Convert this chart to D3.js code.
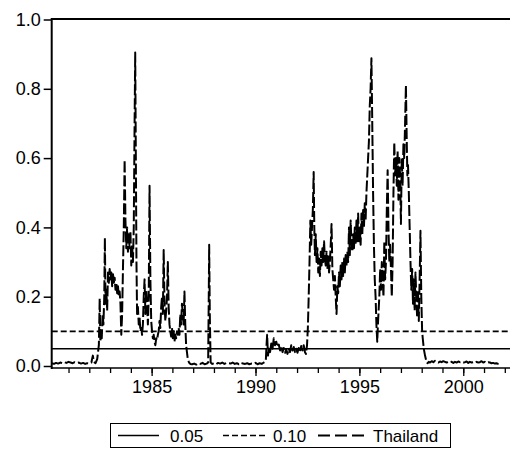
<!DOCTYPE html>
<html><head><meta charset="utf-8">
<script src="https://cdn.jsdelivr.net/npm/d3@7"></script>
<style>body{margin:0;background:#fff}svg{display:block}text{font-family:"Liberation Sans",Arial,sans-serif;}</style>
</head><body><svg id="c" width="510" height="457"></svg>
<script>
const yearTicks = [1985, 1990, 1995, 2000];
const minorYears = [1981,1982,1983,1984,1985,1986,1987,1988,1989,1990,1991,1992,1993,1994,1995,1996,1997,1998,1999,2000,2001,2002];
const yTicks = [0.0, 0.2, 0.4, 0.6, 0.8, 1.0];
const thresholds = [0.05, 0.10];
const legendLabels = ["0.05", "0.10", "Thailand"];
const years = [
1980.20,1980.30,1980.40,1980.50,1980.60,1980.70,1980.80,1980.90,1981.00,1981.10,1981.20,1981.30,1981.40,1981.50,1981.60,1981.70,1981.80,1981.90,1982.00,1982.10,1982.17,1982.22,1982.30,1982.38,1982.42,1982.46,1982.50,1982.53,1982.56,1982.60,1982.64,1982.68,1982.72,1982.75,1982.78,1982.82,1982.86,1982.90,1982.94,1982.98,1983.02,1983.06,1983.10,1983.14,1983.18,1983.22,1983.26,1983.30,1983.34,1983.38,1983.42,1983.46,1983.50,1983.54,1983.58,1983.62,1983.66,1983.70,1983.74,1983.78,1983.82,1983.86,1983.90,1983.94,1983.98,1984.02,1984.06,1984.10,1984.14,1984.18,1984.21,1984.24,1984.27,1984.30,1984.34,1984.38,1984.42,1984.46,1984.50,1984.54,1984.58,1984.62,1984.66,1984.70,1984.74,1984.78,1984.82,1984.86,1984.90,1984.94,1984.98,1985.02,1985.06,1985.10,1985.14,1985.18,1985.22,1985.26,1985.30,1985.34,1985.38,1985.42,1985.46,1985.50,1985.54,1985.58,1985.62,1985.66,1985.70,1985.74,1985.78,1985.82,1985.86,1985.90,1985.94,1985.98,1986.02,1986.06,1986.10,1986.14,1986.18,1986.22,1986.26,1986.30,1986.34,1986.38,1986.42,1986.46,1986.50,1986.54,1986.58,1986.62,1986.66,1986.70,1986.74,1986.80,1986.86,1986.95,1987.05,1987.15,1987.25,1987.35,1987.45,1987.55,1987.65,1987.72,1987.75,1987.77,1987.80,1987.84,1987.92,1988.00,1988.10,1988.20,1988.30,1988.40,1988.50,1988.60,1988.70,1988.80,1988.90,1989.00,1989.10,1989.20,1989.30,1989.40,1989.50,1989.60,1989.70,1989.80,1989.90,1990.00,1990.10,1990.20,1990.30,1990.40,1990.46,1990.50,1990.53,1990.56,1990.60,1990.64,1990.70,1990.76,1990.82,1990.88,1990.94,1991.00,1991.06,1991.12,1991.18,1991.24,1991.30,1991.36,1991.42,1991.48,1991.54,1991.60,1991.66,1991.72,1991.78,1991.84,1991.90,1991.96,1992.02,1992.08,1992.14,1992.20,1992.26,1992.32,1992.38,1992.43,1992.48,1992.52,1992.56,1992.60,1992.64,1992.68,1992.72,1992.76,1992.80,1992.83,1992.86,1992.90,1992.94,1992.98,1993.02,1993.06,1993.10,1993.14,1993.18,1993.22,1993.26,1993.30,1993.34,1993.38,1993.42,1993.46,1993.50,1993.54,1993.58,1993.62,1993.66,1993.70,1993.74,1993.78,1993.82,1993.86,1993.90,1993.94,1993.98,1994.02,1994.06,1994.10,1994.14,1994.18,1994.22,1994.26,1994.30,1994.34,1994.38,1994.42,1994.46,1994.50,1994.54,1994.58,1994.62,1994.66,1994.70,1994.74,1994.78,1994.82,1994.86,1994.90,1994.94,1994.98,1995.02,1995.06,1995.10,1995.14,1995.18,1995.22,1995.26,1995.30,1995.34,1995.38,1995.42,1995.46,1995.50,1995.54,1995.58,1995.62,1995.66,1995.70,1995.74,1995.78,1995.82,1995.86,1995.90,1995.96,1996.00,1996.04,1996.08,1996.12,1996.16,1996.20,1996.24,1996.28,1996.32,1996.36,1996.40,1996.44,1996.48,1996.52,1996.56,1996.60,1996.64,1996.68,1996.72,1996.76,1996.80,1996.84,1996.88,1996.92,1996.96,1997.00,1997.04,1997.08,1997.12,1997.16,1997.20,1997.24,1997.28,1997.31,1997.34,1997.38,1997.42,1997.46,1997.50,1997.54,1997.58,1997.62,1997.66,1997.70,1997.74,1997.78,1997.82,1997.86,1997.90,1997.94,1997.98,1998.02,1998.05,1998.10,1998.16,1998.22,1998.28,1998.34,1998.40,1998.48,1998.56,1998.64,1998.72,1998.80,1998.88,1998.96,1999.04,1999.12,1999.20,1999.28,1999.36,1999.44,1999.52,1999.60,1999.68,1999.76,1999.84,1999.92,2000.00,2000.08,2000.16,2000.24,2000.32,2000.40,2000.48,2000.56,2000.64,2000.72,2000.80,2000.88,2000.96,2001.04,2001.12,2001.20,2001.28,2001.36,2001.44,2001.52,2001.60,2001.68,2001.76,2001.84,2001.92,2002.00,2002.08,2002.16,2002.24];
const thailand = [
0.008,0.006,0.009,0.007,0.010,0.008,0.011,0.009,0.012,0.010,0.008,0.011,0.009,0.010,0.007,0.009,0.006,0.008,0.007,0.010,0.030,0.012,0.008,0.020,0.040,0.060,0.195,0.070,0.100,0.080,0.150,0.120,0.200,0.370,0.180,0.220,0.160,0.270,0.240,0.280,0.250,0.270,0.230,0.265,0.240,0.255,0.220,0.240,0.210,0.230,0.200,0.215,0.180,0.090,0.150,0.280,0.400,0.595,0.420,0.340,0.400,0.330,0.380,0.340,0.390,0.290,0.350,0.300,0.400,0.700,0.905,0.600,0.300,0.150,0.170,0.120,0.140,0.100,0.110,0.090,0.120,0.200,0.250,0.150,0.220,0.180,0.120,0.200,0.520,0.250,0.130,0.100,0.080,0.090,0.070,0.060,0.080,0.075,0.090,0.100,0.130,0.110,0.170,0.200,0.150,0.335,0.180,0.130,0.160,0.200,0.300,0.170,0.120,0.100,0.085,0.110,0.080,0.100,0.070,0.090,0.080,0.100,0.090,0.110,0.090,0.150,0.120,0.180,0.150,0.120,0.215,0.120,0.060,0.040,0.020,0.010,0.006,0.005,0.007,0.004,0.008,0.006,0.009,0.005,0.007,0.010,0.200,0.350,0.150,0.010,0.006,0.008,0.005,0.009,0.007,0.010,0.006,0.009,0.008,0.007,0.010,0.006,0.008,0.005,0.009,0.007,0.006,0.008,0.005,0.007,0.006,0.009,0.005,0.008,0.006,0.010,0.012,0.020,0.060,0.090,0.030,0.050,0.040,0.065,0.050,0.080,0.060,0.070,0.055,0.062,0.045,0.058,0.040,0.052,0.038,0.048,0.035,0.050,0.040,0.060,0.045,0.055,0.040,0.050,0.038,0.052,0.042,0.058,0.045,0.060,0.040,0.035,0.060,0.110,0.200,0.300,0.420,0.350,0.400,0.450,0.560,0.400,0.320,0.380,0.300,0.340,0.270,0.310,0.260,0.330,0.290,0.340,0.300,0.360,0.310,0.290,0.330,0.280,0.320,0.270,0.300,0.350,0.410,0.280,0.250,0.220,0.260,0.200,0.150,0.230,0.210,0.270,0.230,0.290,0.250,0.300,0.260,0.310,0.270,0.320,0.290,0.330,0.300,0.400,0.320,0.420,0.350,0.330,0.380,0.340,0.400,0.350,0.420,0.360,0.440,0.360,0.400,0.350,0.440,0.380,0.450,0.400,0.470,0.420,0.500,0.550,0.600,0.650,0.750,0.800,0.888,0.700,0.500,0.350,0.250,0.200,0.120,0.070,0.130,0.200,0.280,0.220,0.300,0.250,0.200,0.360,0.250,0.300,0.450,0.565,0.400,0.300,0.350,0.280,0.200,0.300,0.500,0.645,0.550,0.600,0.520,0.620,0.480,0.600,0.550,0.410,0.600,0.520,0.640,0.600,0.700,0.810,0.650,0.550,0.580,0.500,0.400,0.300,0.220,0.280,0.180,0.250,0.160,0.270,0.200,0.140,0.220,0.130,0.250,0.390,0.200,0.100,0.080,0.050,0.030,0.015,0.008,0.012,0.010,0.014,0.011,0.015,0.012,0.010,0.013,0.011,0.014,0.012,0.010,0.013,0.011,0.012,0.009,0.012,0.010,0.013,0.011,0.012,0.010,0.011,0.013,0.009,0.012,0.010,0.011,0.009,0.012,0.010,0.011,0.014,0.010,0.012,0.009,0.011,0.010,0.008,0.009,0.007,0.008,0.006,0.005,0.004];

const svg = d3.select("#c");
const X0 = 51.7, X1 = 510;
const x = d3.scaleLinear().domain([1980.19, 2002.25]).range([X0, X1]);
const y = d3.scaleLinear().domain([0, 1]).range([366, 19.5]);
const axisY = 368;
const FONT = "Liberation Sans, Arial, sans-serif";

// threshold lines
svg.append("line").attr("x1", X0).attr("x2", X1).attr("y1", y(thresholds[0])).attr("y2", y(thresholds[0]))
  .attr("stroke", "#000").attr("stroke-width", 1.6);
svg.append("line").attr("x1", X0).attr("x2", X1).attr("y1", y(thresholds[1])).attr("y2", y(thresholds[1]))
  .attr("stroke", "#000").attr("stroke-width", 1.6).attr("stroke-dasharray", "6,3");

// series
const data = years.map((t, i) => [t, thailand[i]]);
svg.append("path").datum(data)
  .attr("d", d3.line().x(d => x(d[0])).y(d => y(d[1])))
  .attr("fill", "none").attr("stroke", "#000").attr("stroke-width", 2)
  .attr("stroke-dasharray", "11,3").attr("stroke-linejoin", "round");

// frame
svg.append("line").attr("x1", X0).attr("x2", X1).attr("y1", 19).attr("y2", 19).attr("stroke", "#000").attr("stroke-width", 2.2);
svg.append("line").attr("x1", X0).attr("x2", X0).attr("y1", 18).attr("y2", axisY + 1).attr("stroke", "#000").attr("stroke-width", 2);
svg.append("line").attr("x1", X0).attr("x2", X1).attr("y1", axisY).attr("y2", axisY).attr("stroke", "#000").attr("stroke-width", 1.5);

// y axis
const gy = svg.append("g").attr("transform", `translate(${X0},0)`)
  .call(d3.axisLeft(y).tickValues(yTicks).tickFormat(d3.format(".1f")).tickSize(8).tickPadding(3));
gy.select(".domain").remove();
gy.selectAll("line").attr("stroke-width", 1.5);
gy.selectAll("text").attr("font-size", 18).attr("fill", "#000").attr("font-family", FONT);

// x axis minor
const gxm = svg.append("g").attr("transform", `translate(0,${axisY})`)
  .call(d3.axisBottom(x).tickValues(minorYears).tickSize(5).tickFormat(""));
gxm.select(".domain").remove();
gxm.selectAll("line").attr("stroke-width", 1.3);
const gx = svg.append("g").attr("transform", `translate(0,${axisY})`)
  .call(d3.axisBottom(x).tickValues(yearTicks).tickSize(8).tickPadding(4).tickFormat(d3.format("d")));
gx.select(".domain").remove();
gx.selectAll("line").attr("stroke-width", 1.3);
gx.selectAll("text").attr("font-size", 18).attr("fill", "#000").attr("font-family", FONT);

// legend
const lg = svg.append("g");
lg.append("rect").attr("x", 110.5).attr("y", 423.5).attr("width", 340).attr("height", 24)
  .attr("fill", "#fff").attr("stroke", "#000").attr("stroke-width", 1);
const items = [
  {x1: 118, x2: 159, tx: 170, dash: null, w: 1.6},
  {x1: 223, x2: 268, tx: 273, dash: "6,3", w: 1.6},
  {x1: 318, x2: 368, tx: 373, dash: "12,5", w: 2}
];
items.forEach((it, i) => {
  lg.append("line").attr("x1", it.x1).attr("x2", it.x2).attr("y1", 435.5).attr("y2", 435.5)
    .attr("stroke", "#000").attr("stroke-width", it.w).attr("stroke-dasharray", it.dash);
  lg.append("text").attr("x", it.tx).attr("y", 441.5).attr("font-size", 17).attr("font-family", FONT).text(legendLabels[i]);
});
</script></body></html>
